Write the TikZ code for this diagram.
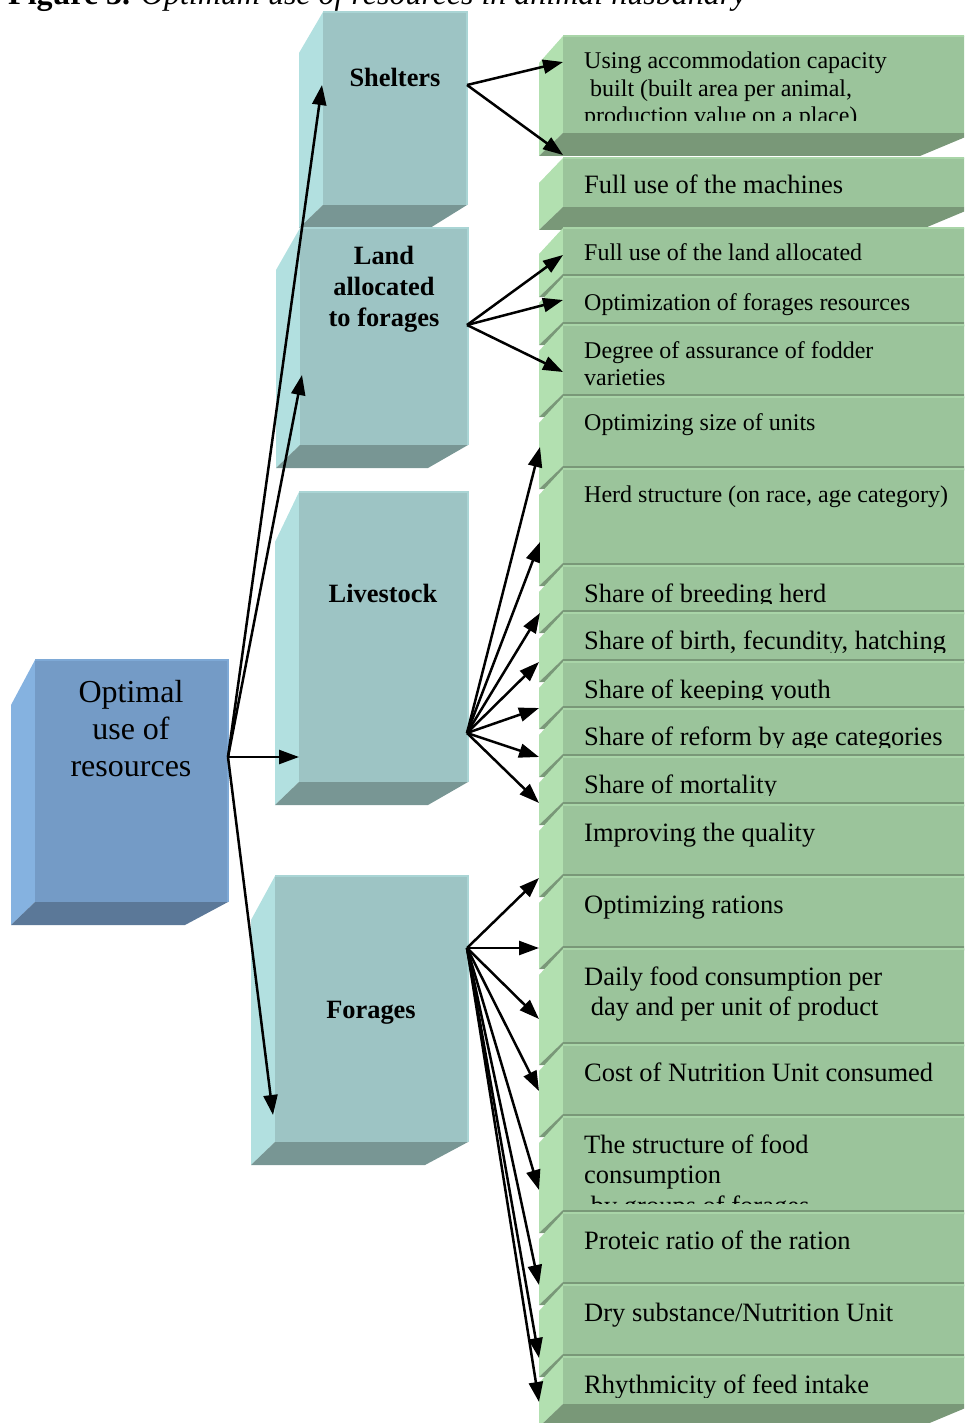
\documentclass[tikz,border=0pt]{standalone}
\usepackage{fontspec}
\setmainfont{Liberation Serif}
\usetikzlibrary{arrows.meta}

\definecolor{optfront}{RGB}{116,155,198}
\definecolor{optside}{RGB}{133,178,224}
\definecolor{optbot}{RGB}{91,120,152}
\definecolor{tealfront}{RGB}{157,196,196}
\definecolor{tealside}{RGB}{178,224,224}
\definecolor{tealbot}{RGB}{120,150,148}
\definecolor{grnfront}{RGB}{155,196,155}
\definecolor{grnside}{RGB}{178,224,176}
\definecolor{grnbot}{RGB}{121,152,120}

% 3D box: front (#1,#2)-(#3,#4), slant of side face #5, inset of bottom face #6, colour set #7
\newcommand{\cubebox}[7]{%
  \fill[#7side] (#1,#2) -- (#1-24,#2+#5) -- (#1-24,#4+23) -- (#1,#4) -- cycle;
  \fill[#7bot] (#1,#4) -- (#3,#4) -- (#3-#6,#4+23) -- (#1-24,#4+23) -- cycle;
  \fill[#7front] (#1,#2) rectangle (#3,#4);
  \draw[#7side!60!#7front, line width=1.2pt] (#1,#2) -- (#3,#2) -- (#3,#4);
}

% lines of a row text, first baseline on the node's base
\newcommand{\rowtext}[1]{\begin{tabular}[t]{@{}l@{}}#1\end{tabular}}

% one row of the right column: top #1, bottom #2, style #3, name #4, text #5
\newcommand{\itemrow}[5]{%
  \cubebox{563}{#1}{975}{#2}{26}{55}{grn}
  \begin{scope}
    \clip (563,#1) rectangle (964,#2-7);
    \node[#3] (#4) at (584,#1) {\rowtext{#5}};
  \end{scope}
}

\begin{document}
\begin{tikzpicture}[x=1pt, y=-1pt,
    boxlabel/.style={font=\fontsize{26.4}{31}\selectfont\bfseries, align=center, inner sep=0pt},
    mainlabel/.style={font=\fontsize{32}{37}\selectfont, align=center, inner sep=0pt},
    itemsmall/.style={anchor=base west, inner sep=0pt, font=\fontsize{24}{27.5}\selectfont, yshift=-33pt},
    itemlarge/.style={anchor=base west, inner sep=0pt, font=\fontsize{26.5}{30.5}\selectfont, yshift=-36pt},
    arr/.style={-{Triangle[length=20pt, width=14pt]}, line width=2.5pt}]

    \clip (0,0) rectangle (964,1423);

    % caption (cut by the top edge)
    \node[anchor=base west, inner sep=0pt, font=\fontsize{32}{37}\selectfont] (caption) at (8,5)
        {\textbf{Figure 3.} \textit{Optimum use of resources in animal husbandry}};

    % resource boxes
    \cubebox{323}{12}{467}{205}{41}{37}{teal}
    \node[boxlabel] (shelt) at (395,77) {Shelters};
    \cubebox{300}{228}{468}{445}{42}{40}{teal}
    \node[boxlabel] (land) at (384,289) {Land\\allocated\\to forages};
    \cubebox{299}{492}{468}{782}{50}{40}{teal}
    \node[boxlabel] (live) at (383,593) {Livestock};
    \cubebox{275}{876}{468}{1142}{44}{43}{teal}
    \node[boxlabel] (forag) at (371,1013) {Forages};

    % main box
    \cubebox{35}{660}{228}{902}{45}{43}{opt}
    \node[mainlabel] (opt) at (131,729) {Optimal\\use of\\resources};

    % right column
    \cubebox{563}{36}{975}{133}{27}{55}{grn}
    \begin{scope}
        \clip (563,36) rectangle (964,121);
        \node[itemsmall] (acc) at (584,36) {\rowtext{Using accommodation capacity\\\hspace*{0.25em}built (built area per animal,\\production value on a place)}};
    \end{scope}
    \cubebox{563}{158}{975}{207}{25}{55}{grn}
    \node[itemlarge] (mach) at (584,158) {Full use of the machines};

    \itemrow{228}{274}{itemsmall}{landuse}{Full use of the land allocated}
    \itemrow{277}{322}{itemsmall}{forres}{Optimization of forages resources}
    \itemrow{325}{394}{itemsmall}{fodder}{Degree of assurance of fodder\\varieties}
    \itemrow{397}{466}{itemsmall}{unitsize}{Optimizing size of units}
    \itemrow{469}{563}{itemsmall}{herd}{Herd structure (on race, age category)}
    \itemrow{566}{610}{itemlarge}{breed}{Share of breeding herd}
    \itemrow{613}{659}{itemlarge}{birth}{Share of birth, fecundity, hatching}
    \itemrow{662}{706}{itemlarge}{youth}{Share of keeping youth}
    \itemrow{709}{754}{itemlarge}{reform}{Share of reform by age categories}
    \itemrow{757}{802}{itemlarge}{mort}{Share of mortality}
    \itemrow{805}{874}{itemlarge}{quality}{Improving the quality}
    \itemrow{877}{946}{itemlarge}{ration}{Optimizing rations}
    \itemrow{949}{1042}{itemlarge}{daily}{Daily food consumption per\\\hspace*{0.25em}day and per unit of product}
    \itemrow{1045}{1114}{itemlarge}{cost}{Cost of Nutrition Unit consumed}
    \itemrow{1117}{1210}{itemlarge}{struct}{The structure of food\\consumption\\\hspace*{0.25em}by groups of forages}
    \itemrow{1213}{1282}{itemlarge}{protein}{Proteic ratio of the ration}
    \itemrow{1285}{1354}{itemlarge}{drysub}{Dry substance/Nutrition Unit}
    \itemrow{1357}{1404}{itemlarge}{rhythm}{Rhythmicity of feed intake}

    % arrow ends
    \coordinate (opt-out) at (228,757);
    \coordinate (shelt-in) at (322,85);
    \coordinate (land-in) at (302,375);
    \coordinate (live-in) at (299,757);
    \coordinate (forag-in) at (273,1115);
    \coordinate (shelt-out) at (467,85);
    \coordinate (land-out) at (467,325);
    \coordinate (live-out) at (467,733);
    \coordinate (forag-out) at (467,948);
    \coordinate (acc-in) at (563,62);
    \coordinate (mach-in) at (563,155);
    \coordinate (landuse-in) at (563,255);
    \coordinate (forres-in) at (563,300);
    \coordinate (fodder-in) at (563,372);
    \coordinate (unitsize-in) at (540,447);
    \coordinate (herd-in) at (540,542);
    \coordinate (breed-in) at (540,613);
    \coordinate (birth-in) at (539,662);
    \coordinate (youth-in) at (539,708);
    \coordinate (reform-in) at (539,757);
    \coordinate (mort-in) at (539,803);
    \coordinate (ration-in) at (539,878);
    \coordinate (daily-in) at (539,948);
    \coordinate (cost-in) at (539,1019);
    \coordinate (struct-in) at (539,1091);
    \coordinate (struct2-in) at (539,1190);
    \coordinate (protein-in) at (539,1285);
    \coordinate (drysub-in) at (539,1358);
    \coordinate (rhythm-in) at (539,1402);

    % arrows
    \draw[arr] (opt-out) -- (shelt-in);
    \draw[arr] (opt-out) -- (land-in);
    \draw[arr] (opt-out) -- (live-in);
    \draw[arr] (opt-out) -- (forag-in);

    \draw[arr] (shelt-out) -- (acc-in);
    \draw[arr] (shelt-out) -- (mach-in);

    \draw[arr] (land-out) -- (landuse-in);
    \draw[arr] (land-out) -- (forres-in);
    \draw[arr] (land-out) -- (fodder-in);

    \draw[arr] (live-out) -- (unitsize-in);
    \draw[arr] (live-out) -- (herd-in);
    \draw[arr] (live-out) -- (breed-in);
    \draw[arr] (live-out) -- (birth-in);
    \draw[arr] (live-out) -- (youth-in);
    \draw[arr] (live-out) -- (reform-in);
    \draw[arr] (live-out) -- (mort-in);

    \draw[arr] (forag-out) -- (ration-in);
    \draw[arr] (forag-out) -- (daily-in);
    \draw[arr] (forag-out) -- (cost-in);
    \draw[arr] (forag-out) -- (struct-in);
    \draw[arr] (forag-out) -- (struct2-in);
    \draw[arr] (forag-out) -- (protein-in);
    \draw[arr] (forag-out) -- (drysub-in);
    \draw[arr] (forag-out) -- (rhythm-in);

\end{tikzpicture}
\end{document}
